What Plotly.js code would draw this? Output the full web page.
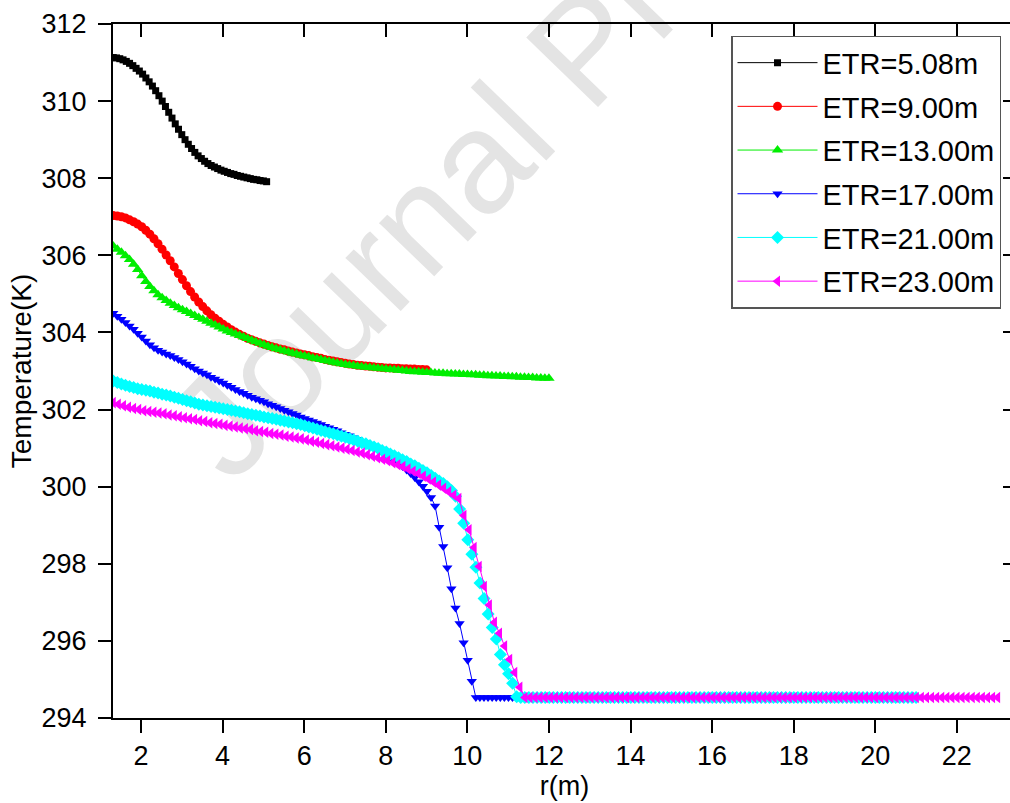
<!DOCTYPE html>
<html>
<head>
<meta charset="utf-8">
<script src="https://cdn.plot.ly/plotly-3.0.1.min.js"></script>
<style>
html,body{margin:0;padding:0;overflow:hidden;background:#fff;}
#chart{width:1016px;height:803px;}
</style>
</head>
<body>
<div id="chart"></div>
<script>
// ---- Data ----
const seriesNames = ["ETR=5.08m","ETR=9.00m","ETR=13.00m","ETR=17.00m","ETR=21.00m","ETR=23.00m"];
const rStart = 1.32;
const rEnd = [5.08, 9.00, 12.00, 17.00, 21.00, 23.00];

const T_5_08 = [311.13,311.12,311.10,311.07,311.03,310.98,310.92,310.85,310.78,310.70,
310.60,310.50,310.39,310.27,310.14,310.00,309.86,309.71,309.56,309.41,
309.27,309.13,309.00,308.88,308.77,308.67,308.58,308.51,308.44,308.38,
308.33,308.29,308.25,308.21,308.18,308.15,308.12,308.10,308.07,308.05,
308.03,308.01,307.99,307.97,307.96,307.94,307.93,307.91];

const T_9_00 = [307.03,307.02,307.00,306.97,306.92,306.87,306.81,306.74,306.65,306.55,
306.43,306.30,306.16,306.01,305.86,305.70,305.53,305.37,305.21,305.06,
304.92,304.79,304.67,304.56,304.46,304.37,304.29,304.21,304.14,304.07,
304.01,303.95,303.90,303.85,303.81,303.77,303.73,303.70,303.66,303.63,
303.60,303.57,303.55,303.52,303.49,303.47,303.44,303.42,303.40,303.37,
303.35,303.33,303.30,303.28,303.26,303.24,303.22,303.20,303.18,303.17,
303.15,303.14,303.13,303.12,303.11,303.10,303.09,303.08,303.08,303.07,
303.07,303.06,303.06,303.05,303.05,303.04,303.04,303.03];

const T_13_00 = [306.24,306.16,306.08,305.99,305.89,305.77,305.63,305.47,305.32,305.19,
305.08,304.98,304.90,304.83,304.76,304.70,304.64,304.59,304.54,304.49,
304.44,304.39,304.34,304.29,304.24,304.19,304.14,304.09,304.04,304.00,
303.96,303.92,303.88,303.84,303.80,303.76,303.72,303.68,303.64,303.61,
303.58,303.55,303.52,303.49,303.46,303.44,303.41,303.39,303.37,303.34,
303.32,303.30,303.27,303.25,303.23,303.21,303.19,303.17,303.15,303.14,
303.12,303.11,303.10,303.09,303.08,303.07,303.06,303.05,303.04,303.03,
303.02,303.01,303.00,302.99,302.98,302.98,302.97,302.96,302.96,302.95,
302.94,302.94,302.93,302.93,302.92,302.92,302.91,302.91,302.90,302.90,
302.89,302.89,302.88,302.88,302.87,302.87,302.86,302.86,302.85,302.85,
302.84,302.84,302.83,302.83,302.82,302.82,302.81,302.81];

const T_17_00 = [304.50,304.42,304.34,304.26,304.17,304.08,303.98,303.88,303.78,303.68,
303.60,303.54,303.49,303.44,303.40,303.35,303.30,303.24,303.18,303.12,
303.06,303.00,302.95,302.90,302.84,302.79,302.74,302.69,302.63,302.58,
302.52,302.47,302.42,302.37,302.32,302.28,302.24,302.20,302.15,302.11,
302.07,302.03,301.98,301.94,301.90,301.86,301.81,301.77,301.73,301.69,
301.65,301.61,301.57,301.53,301.49,301.45,301.40,301.36,301.32,301.27,
301.23,301.18,301.13,301.08,301.02,300.96,300.89,300.82,300.75,300.68,
300.60,300.52,300.43,300.34,300.24,300.13,300.01,299.88,299.72,299.50,
298.95,298.45,297.90,297.35,296.85,296.45,295.95,295.50,294.95,294.53,
294.53,294.53,294.53,294.53,294.53,294.53,294.53,294.53,294.53,294.53,
294.53,294.53,294.53,294.53,294.53,294.53,294.53,294.53,294.53,294.53,
294.53,294.53,294.53,294.53,294.53,294.53,294.53,294.53,294.53,294.53,
294.53,294.53,294.53,294.53,294.53,294.53,294.53,294.53,294.53,294.53,
294.53,294.53,294.53,294.53,294.53,294.53,294.53,294.53,294.53,294.53,
294.53,294.53,294.53,294.53,294.53,294.53,294.53,294.53,294.53,294.53,
294.53,294.53,294.53,294.53,294.53,294.53,294.53,294.53];

const T_21_00 = [302.74,302.70,302.66,302.63,302.60,302.57,302.54,302.52,302.50,302.48,
302.45,302.43,302.40,302.38,302.35,302.32,302.29,302.26,302.23,302.20,
302.17,302.14,302.12,302.10,302.08,302.06,302.04,302.02,302.00,301.98,
301.96,301.94,301.92,301.89,301.87,301.85,301.83,301.81,301.79,301.77,
301.75,301.72,301.70,301.68,301.66,301.63,301.61,301.58,301.55,301.52,
301.49,301.46,301.43,301.40,301.37,301.34,301.31,301.28,301.24,301.21,
301.18,301.14,301.11,301.07,301.03,300.99,300.94,300.90,300.85,300.80,
300.75,300.70,300.65,300.59,300.54,300.48,300.42,300.36,300.29,300.22,
300.15,300.08,300.00,299.90,299.75,299.42,299.05,298.62,298.25,297.91,
297.50,297.10,296.70,296.35,296.05,295.65,295.38,295.15,294.90,294.55,
294.53,294.53,294.53,294.53,294.53,294.53,294.53,294.53,294.53,294.53,
294.53,294.53,294.53,294.53,294.53,294.53,294.53,294.53,294.53,294.53,
294.53,294.53,294.53,294.53,294.53,294.53,294.53,294.53,294.53,294.53,
294.53,294.53,294.53,294.53,294.53,294.53,294.53,294.53,294.53,294.53,
294.53,294.53,294.53,294.53,294.53,294.53,294.53,294.53,294.53,294.53,
294.53,294.53,294.53,294.53,294.53,294.53,294.53,294.53,294.53,294.53,
294.53,294.53,294.53,294.53,294.53,294.53,294.53,294.53,294.53,294.53,
294.53,294.53,294.53,294.53,294.53,294.53,294.53,294.53,294.53,294.53,
294.53,294.53,294.53,294.53,294.53,294.53,294.53,294.53,294.53,294.53,
294.53,294.53,294.53,294.53,294.53,294.53,294.53,294.53];

const T_23_00 = [302.18,302.14,302.10,302.06,302.03,302.00,301.97,301.95,301.93,301.91,
301.89,301.86,301.84,301.81,301.79,301.76,301.74,301.71,301.69,301.66,
301.64,301.62,301.59,301.57,301.55,301.52,301.50,301.48,301.45,301.43,
301.41,301.38,301.36,301.34,301.31,301.29,301.26,301.24,301.21,301.18,
301.15,301.12,301.09,301.06,301.03,301.00,300.97,300.94,300.90,300.87,
300.83,300.79,300.75,300.71,300.67,300.62,300.57,300.52,300.46,300.40,
300.34,300.27,300.20,300.12,300.04,299.96,299.87,299.78,299.69,299.25,
298.88,298.42,297.93,297.41,296.93,296.48,296.20,295.87,295.52,295.18,
294.80,294.53,
294.53,294.53,294.53,294.53,294.53,294.53,294.53,294.53,294.53,294.53,
294.53,294.53,294.53,294.53,294.53,294.53,294.53,294.53,294.53,294.53,
294.53,294.53,294.53,294.53,294.53,294.53,294.53,294.53,294.53,294.53,
294.53,294.53,294.53,294.53,294.53,294.53,294.53,294.53,294.53,294.53,
294.53,294.53,294.53,294.53,294.53,294.53,294.53,294.53,294.53,294.53,
294.53,294.53,294.53,294.53,294.53,294.53,294.53,294.53,294.53,294.53,
294.53,294.53,294.53,294.53,294.53,294.53,294.53,294.53,294.53,294.53,
294.53,294.53,294.53,294.53,294.53,294.53,294.53,294.53,294.53,294.53,
294.53,294.53,294.53,294.53,294.53,294.53,294.53,294.53,294.53,294.53,
294.53,294.53,294.53];

const xTicks = [2,4,6,8,10,12,14,16,18,20,22];
const yTicks = [294,296,298,300,302,304,306,308,310,312];

// ---- Styles ----
const seriesT = [T_5_08, T_9_00, T_13_00, T_17_00, T_21_00, T_23_00];
const colors = ["#000000","#ff0000","#00ee00","#0000ff","#00ffff","#ff00ff"];
const symbols = ["square","circle","triangle-up","triangle-down","diamond","triangle-left"];
const sizes = [7,9,10,9,10,10];

// sample positions along r, evenly spaced over each series' span
function samplePositions(a, b, n){
  const out = [];
  for(let i=0;i<n;i++) out.push(a + (b-a)*i/(n-1));
  return out;
}

const FONT = "Liberation Sans, Arial, sans-serif";
const traces = seriesT.map((T,i)=>({
  type:"scatter", mode:"lines+markers",
  x: samplePositions(rStart, rEnd[i], T.length),
  y: T,
  name: seriesNames[i],
  legendgroup: "g"+i,
  line:{color:colors[i], width:1},
  marker:{symbol:symbols[i], size:sizes[i], color:colors[i], line:{width:0}}
}));
// carrier for the mirrored (inside-tick) top/right axes
traces.push({type:"scatter", x:[], y:[], xaxis:"x2", yaxis:"y2", showlegend:false, hoverinfo:"skip"});

const xr = [1.314, 23.45], yr = [294, 312];
const axCommon = {showgrid:false, zeroline:false, showline:true, linecolor:"#000", linewidth:2,
  tickcolor:"#000", tickwidth:2, ticklen:13, tickfont:{family:FONT, size:27, color:"#000"}};

const layout = {
  width:1016, height:803,
  margin:{l:113, r:0, t:24, b:85},
  paper_bgcolor:"#fff", plot_bgcolor:"rgba(0,0,0,0)",
  font:{family:FONT, color:"#000"},
  showlegend:true,
  xaxis:Object.assign({}, axCommon, {range:xr, tickmode:"array", tickvals:xTicks, ticks:"outside",
    title:{text:"r(m)", font:{family:FONT, size:27}, standoff:6}}),
  yaxis:Object.assign({}, axCommon, {range:yr, tickmode:"array", tickvals:yTicks, ticks:"outside",
    ticklabelstandoff:6,
    title:{text:"Temperature(K)", font:{family:FONT, size:28}, standoff:2}}),
  xaxis2:Object.assign({}, axCommon, {range:xr, overlaying:"x", side:"top", anchor:"y",
    tickmode:"array", tickvals:xTicks, ticks:"inside", showticklabels:false}),
  yaxis2:Object.assign({}, axCommon, {range:yr, overlaying:"y", side:"right", anchor:"x",
    tickmode:"array", tickvals:yTicks, ticks:"inside", showticklabels:false}),
  legend:{x:0.6844, y:0.983, xanchor:"left", yanchor:"top", bgcolor:"#fff",
    bordercolor:"#555", borderwidth:1.5, font:{family:FONT, size:29, color:"#000"},
    tracegroupgap:3, itemwidth:80},
  shapes:[{type:"line", xref:"paper", yref:"paper", layer:"below",
    x0:0.1473, y0:0.3141, x1:1.0088, y1:1.474, line:{width:0, color:"rgba(0,0,0,0)"},
    label:{text:"Journal Pre-proof", textposition:"middle", textangle:"auto",
      font:{family:FONT, size:145, color:"#e4e4e4"}}}]
};

Plotly.newPlot("chart", traces, layout, {displayModeBar:false, staticPlot:true});
</script>
</body>
</html>
